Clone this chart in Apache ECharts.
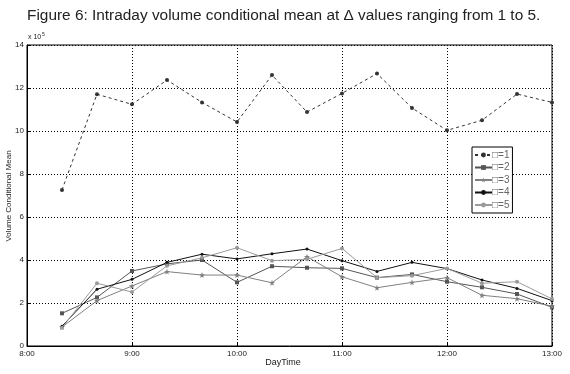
<!DOCTYPE html>
<html><head><meta charset="utf-8">
<script src="https://cdn.jsdelivr.net/npm/echarts@6/dist/echarts.min.js"></script>
<style>html,body{margin:0;padding:0;background:#fff}#c{width:570px;height:374px}</style>
</head><body><div id="c"></div>
<script>
var times = ['8:20','8:40','9:00','9:20','9:40','10:00','10:20','10:40','11:00','11:20','11:40','12:00','12:20','12:40','13:00'];
var xTickLabels = ['8:00','9:00','10:00','11:00','12:00','13:00'];
var seriesNames = ['\u25A1=1','\u25A1=2','\u25A1=3','\u25A1=4','\u25A1=5'];
var d1 = [7.26,11.71,11.24,12.37,11.33,10.42,12.60,10.88,11.75,12.67,11.07,10.03,10.50,11.72,11.33];
var d2 = [1.52,2.26,3.49,3.82,4.00,2.96,3.71,3.64,3.61,3.18,3.33,2.99,2.73,2.42,1.80];
var d3 = [0.88,2.11,2.79,3.46,3.30,3.30,2.94,4.15,3.22,2.71,2.96,3.18,2.36,2.20,1.85];
var d4 = [0.92,2.64,3.10,3.89,4.27,4.05,4.29,4.51,3.97,3.47,3.89,3.60,3.07,2.68,2.11];
var d5 = [0.85,2.92,2.51,3.73,4.10,4.57,3.97,4.03,4.54,3.18,3.27,3.61,2.92,2.99,2.19];

function toMin(t){var p=t.split(':');return (+p[0])*60+(+p[1]);}
function pts(arr){return arr.map(function(v,i){return [toMin(times[i]),v];});}
var star='path://M0,-10 L2.4,-3.1 L9.5,-3.1 L3.8,1.2 L5.9,8.1 L0,4 L-5.9,8.1 L-3.8,1.2 L-9.5,-3.1 L-2.4,-3.1Z';
var FONT='Liberation Sans, Arial, sans-serif';
var chart = echarts.init(document.getElementById('c'));
function mk(name,data,color,symbol,size,dash){
  return {name:name,type:'line',data:pts(data),symbol:symbol,symbolSize:size,
    lineStyle:{color:color,width:1,type:dash?[3,3]:'solid'},itemStyle:{color:color},
    showSymbol:true,animation:false};
}
chart.setOption({
  animation:false,
  title:{text:'Figure 6: Intraday volume conditional mean at \u0394 values ranging from 1 to 5.',left:22,top:3,
    textStyle:{fontFamily:FONT,fontSize:15.4,fontWeight:'normal',color:'#222'}},
  grid:{left:27,right:18,top:45,bottom:28,show:true,borderColor:'#000',borderWidth:1,containLabel:false,outerBoundsMode:'none'},
  legend:{orient:'vertical',left:472,top:147,itemWidth:17,itemHeight:6,itemGap:2.5,padding:[3,3,3,2],
    backgroundColor:'#fff',borderColor:'#000',borderWidth:1,
    textStyle:{fontFamily:FONT,fontSize:10,lineHeight:9,color:'#666',padding:[0,0,0,-5]},data:seriesNames},
  xAxis:{type:'value',min:480,max:780,interval:60,
    axisLine:{lineStyle:{color:'#000',width:1}},
    axisTick:{inside:true,length:4,lineStyle:{color:'#000'}},
    axisLabel:{fontFamily:FONT,fontSize:8,color:'#222',margin:4,formatter:function(v){return xTickLabels[Math.round((v-480)/60)];}},
    splitLine:{show:true,lineStyle:{color:'#000',type:[1,2],width:1}}},
  yAxis:{type:'value',min:0,max:14,interval:2,
    axisLine:{show:true,lineStyle:{color:'#000',width:1}},
    axisTick:{show:true,inside:true,length:4,lineStyle:{color:'#000'}},
    axisLabel:{fontFamily:FONT,fontSize:8,color:'#222',margin:3},
    splitLine:{show:true,lineStyle:{color:'#000',type:[1,2],width:1}}},
  graphic:[{type:'text',left:28,top:34,style:{text:'x 10',font:'7px '+FONT,fill:'#222'}},
           {type:'text',left:42,top:32,style:{text:'5',font:'5px '+FONT,fill:'#222'}},
           {type:'text',x:9,y:196,rotation:Math.PI/2,style:{text:'Volume Conditional Mean',font:'8px '+FONT,fill:'#222',align:'center',verticalAlign:'middle'}},
           {type:'text',x:283,y:363,style:{text:'DayTime',font:'9px '+FONT,fill:'#222',align:'center',verticalAlign:'middle'}}],
  series:[
    mk(seriesNames[0],d1,'#333','circle',4,true),
    mk(seriesNames[1],d2,'#555','rect',4,false),
    mk(seriesNames[2],d3,'#808080',star,6,false),
    mk(seriesNames[3],d4,'#111','circle',3,false),
    mk(seriesNames[4],d5,'#9a9a9a','circle',4,false)
  ]
});
</script></body></html>
